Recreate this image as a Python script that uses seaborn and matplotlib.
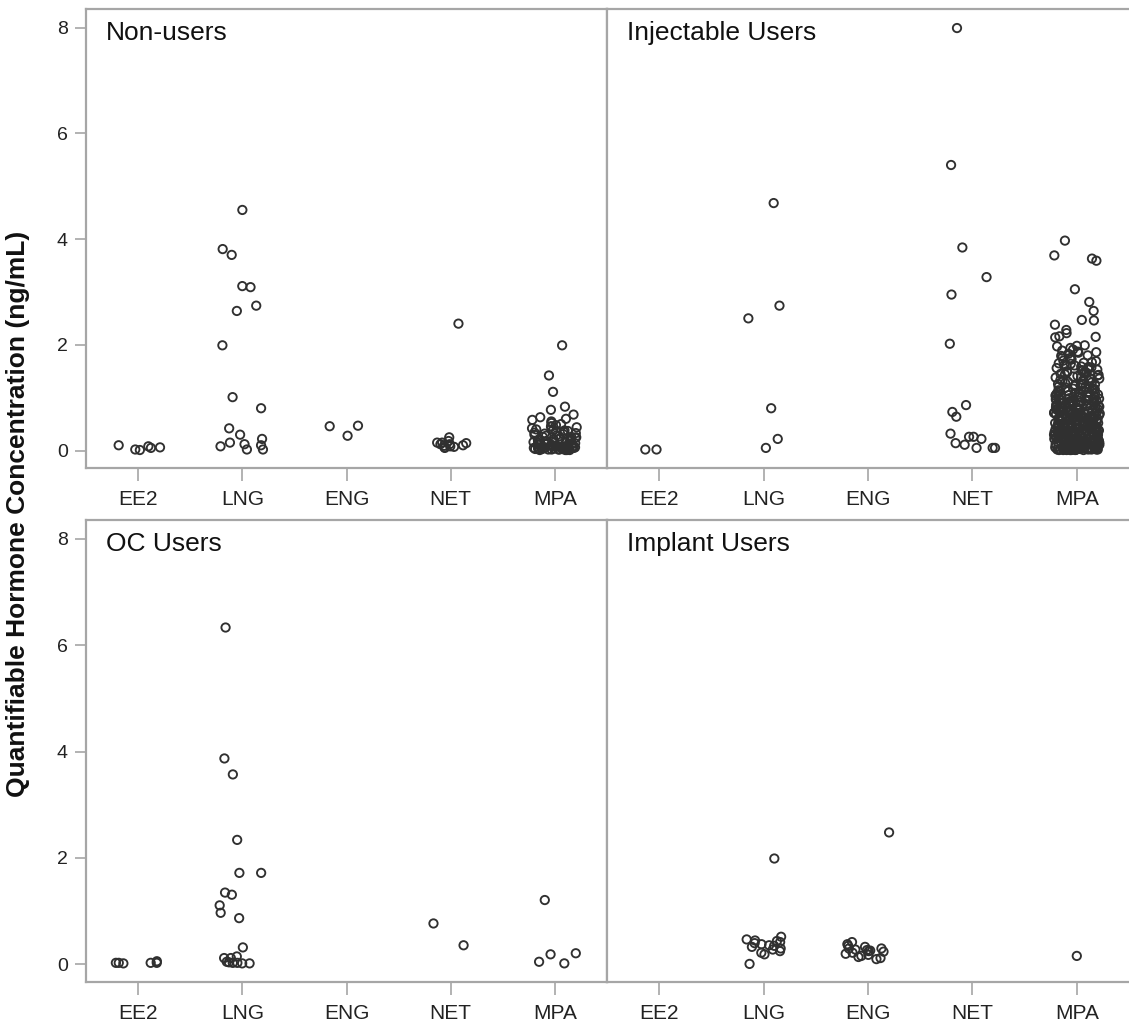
"""Strip plots of quantifiable hormone concentration by contraceptive group."""

import matplotlib
matplotlib.use("Agg")
import matplotlib.pyplot as plt
import numpy as np
import pandas as pd
import seaborn as sns

# Hormone categories on the x axis
hormones = ["EE2", "LNG", "ENG", "NET", "MPA"]

# Panel titles (reading order: top-left, top-right, bottom-left, bottom-right)
groups = ["Non-users", "Injectable Users", "OC Users", "Implant Users"]

# Concentrations (ng/mL)
nonusers_ee2 = [0.10, 0.05, 0.02, 0.08, 0.06, 0.01]
nonusers_lng = [4.55, 3.81, 3.70, 3.11, 3.09, 2.74, 2.64, 1.99, 1.01, 0.80,
                0.42, 0.30, 0.22, 0.08, 0.02, 0.02, 0.15, 0.12, 0.10]
nonusers_eng = [0.46, 0.28, 0.47]
nonusers_net = [2.40, 0.25, 0.15, 0.08, 0.05, 0.12, 0.06, 0.14, 0.10, 0.15,
                0.07, 0.12, 0.18, 0.09]
nonusers_mpa = [1.99, 1.42, 1.11, 0.83, 0.77, 0.68, 0.63, 0.60, 0.55, 0.52,
                0.50, 0.48, 0.45, 0.42, 0.40, 0.38, 0.36, 0.35, 0.33, 0.31,
                0.30, 0.28, 0.27, 0.26, 0.25, 0.24, 0.22, 0.21, 0.20, 0.19,
                0.18, 0.17, 0.16, 0.15, 0.15, 0.14, 0.13, 0.12, 0.12, 0.11,
                0.10, 0.10, 0.09, 0.09, 0.08, 0.08, 0.07, 0.07, 0.06, 0.06,
                0.05, 0.05, 0.05, 0.04, 0.04, 0.04, 0.03, 0.03, 0.03, 0.02,
                0.02, 0.02, 0.02, 0.01, 0.01, 0.01,
                0.58, 0.46, 0.39, 0.34, 0.29, 0.23, 0.18, 0.14, 0.11, 0.08,
                0.06, 0.04, 0.03, 0.02, 0.01, 0.37, 0.26, 0.16, 0.09, 0.03,
                0.44, 0.32, 0.21, 0.13, 0.05]

inject_ee2 = [0.02, 0.02]
inject_lng = [4.68, 2.74, 2.50, 0.80, 0.22, 0.05]
inject_eng = []
inject_net = [7.99, 5.40, 3.84, 3.28, 2.95, 2.02, 0.86, 0.73, 0.64, 0.32,
              0.26, 0.22, 0.26, 0.14, 0.11, 0.05, 0.05, 0.05]
inject_mpa = [3.97, 3.69, 3.63, 3.59, 3.05, 2.81, 2.64, 2.47, 2.46, 2.38,
              2.28, 2.22, 2.16, 2.15, 2.14,
              1.99, 1.97, 1.94, 1.91, 1.89, 1.87, 1.85, 1.83, 1.80, 1.79,
              1.77, 1.75, 1.72, 1.70, 1.69, 1.67, 1.65, 1.64, 1.62, 1.61,
              1.60, 1.98, 1.86, 1.73, 1.66,
              1.59, 1.58, 1.56, 1.55, 1.53, 1.52, 1.50, 1.49, 1.47, 1.46,
              1.45, 1.43, 1.42, 1.40, 1.39, 1.38, 1.36, 1.35, 1.33, 1.32,
              1.31, 1.30, 1.28, 1.27, 1.26, 1.25, 1.24, 1.22, 1.21, 1.20,
              1.57, 1.51, 1.44, 1.37, 1.34, 1.29, 1.23, 1.48, 1.41, 1.26,
              1.19, 1.18, 1.17, 1.16, 1.15, 1.14, 1.13, 1.12, 1.11, 1.10,
              1.09, 1.08, 1.07, 1.06, 1.05, 1.04, 1.03, 1.02, 1.01, 1.00,
              0.99, 0.98, 0.97, 0.96, 0.95, 0.94, 0.93, 0.92, 0.91, 0.90,
              0.89, 0.88, 0.87, 0.86, 0.85, 0.84, 0.83, 0.82, 0.81, 0.80,
              1.17, 1.12, 1.06, 1.01, 0.97, 0.93, 0.88, 0.84, 0.81, 1.09,
              1.03, 0.95, 0.90, 0.86, 0.82,
              0.79, 0.78, 0.77, 0.76, 0.75, 0.74, 0.73, 0.72, 0.71, 0.70,
              0.69, 0.68, 0.67, 0.66, 0.65, 0.64, 0.63, 0.62, 0.61, 0.60,
              0.59, 0.58, 0.57, 0.56, 0.55, 0.54, 0.53, 0.52, 0.51, 0.50,
              0.49, 0.48, 0.47, 0.46, 0.45, 0.44, 0.43, 0.42, 0.41, 0.40,
              0.78, 0.75, 0.72, 0.69, 0.66, 0.63, 0.60, 0.57, 0.54, 0.51,
              0.48, 0.45, 0.42, 0.77, 0.71, 0.64, 0.58, 0.52, 0.47, 0.43,
              0.74, 0.62, 0.55, 0.49, 0.41, 0.68, 0.56, 0.46, 0.44, 0.53,
              0.39, 0.38, 0.37, 0.36, 0.35, 0.34, 0.33, 0.32, 0.31, 0.30,
              0.29, 0.28, 0.27, 0.26, 0.25, 0.24, 0.23, 0.22, 0.21, 0.20,
              0.19, 0.18, 0.17, 0.16, 0.15, 0.14, 0.13, 0.12, 0.11, 0.10,
              0.09, 0.08, 0.07, 0.06, 0.05, 0.04, 0.03, 0.02, 0.01, 0.01,
              0.38, 0.35, 0.32, 0.29, 0.26, 0.23, 0.20, 0.17, 0.14, 0.11,
              0.08, 0.05, 0.02, 0.37, 0.31, 0.25, 0.19, 0.13, 0.07, 0.03,
              0.36, 0.30, 0.24, 0.18, 0.12, 0.06, 0.02, 0.34, 0.27, 0.21,
              0.15, 0.09, 0.04, 0.02, 0.33, 0.22, 0.16, 0.10, 0.05, 0.03,
              0.28, 0.17, 0.08, 0.04, 0.02, 0.01, 0.12, 0.06, 0.03, 0.01,
              0.98, 0.94, 0.89, 0.85, 0.79, 0.76, 0.73, 0.70, 0.67, 0.65,
              0.61, 0.59, 0.56, 0.53, 0.50, 0.47, 0.45, 0.43, 0.40, 0.38,
              0.36, 0.34, 0.31, 0.29, 0.27, 0.25, 0.23, 0.21, 0.19, 0.17,
              0.15, 0.13, 0.11, 0.09, 0.07, 0.05, 0.04, 0.03, 0.02, 0.01,
              0.92, 0.83, 0.74, 0.68, 0.62, 0.57, 0.52, 0.48, 0.44, 0.39,
              0.35, 0.32, 0.28, 0.24, 0.20, 0.16, 0.12, 0.08, 0.05, 0.02,
              0.71, 0.63, 0.55, 0.49, 0.42, 0.37, 0.33, 0.26, 0.22, 0.18,
              0.14, 0.10, 0.07, 0.04, 0.02, 0.01, 0.30, 0.25, 0.19, 0.13,
              0.09, 0.06, 0.03, 0.02, 0.01, 0.16, 0.11, 0.06, 0.03, 0.02]

oc_ee2 = [0.02, 0.06, 0.03, 0.03, 0.03, 0.03]
oc_lng = [6.33, 3.87, 3.57, 2.34, 1.72, 1.72, 1.35, 1.31, 1.11, 0.97,
          0.87, 0.32, 0.12, 0.15, 0.12, 0.02, 0.03, 0.05, 0.02, 0.04, 0.03]
oc_eng = []
oc_net = [0.77, 0.36]
oc_mpa = [1.21, 0.21, 0.19, 0.05, 0.02]

implant_ee2 = []
implant_lng = [1.99, 0.52, 0.47, 0.44, 0.42, 0.40, 0.38, 0.36, 0.33, 0.30,
               0.28, 0.25, 0.22, 0.19, 0.01, 0.45, 0.35]
implant_eng = [2.48, 0.42, 0.38, 0.35, 0.33, 0.30, 0.28, 0.27, 0.25, 0.24,
               0.22, 0.20, 0.18, 0.16, 0.14, 0.12, 0.10, 0.30, 0.26]
implant_net = []
implant_mpa = [0.16]

panel_data = {
    "Non-users": [nonusers_ee2, nonusers_lng, nonusers_eng, nonusers_net, nonusers_mpa],
    "Injectable Users": [inject_ee2, inject_lng, inject_eng, inject_net, inject_mpa],
    "OC Users": [oc_ee2, oc_lng, oc_eng, oc_net, oc_mpa],
    "Implant Users": [implant_ee2, implant_lng, implant_eng, implant_net, implant_mpa],
}

rows = []
for group, series in panel_data.items():
    for hormone, values in zip(hormones, series):
        for v in values:
            rows.append({"group": group, "hormone": hormone, "conc": v})
df = pd.DataFrame(rows)

sns.set_theme(style="white")
plt.rcParams["font.family"] = ["Liberation Sans", "DejaVu Sans"]

frame_color = "#a6a6a6"
text_color = "#222222"

fig = plt.figure(figsize=(11.29, 10.27), dpi=100)
W, H = 1129, 1027
# panel boxes in pixels: (left, top, right, bottom)
boxes = [(86, 9, 607, 468), (607, 9, 1129, 468),
         (86, 520, 607, 982), (607, 520, 1129, 982)]

np.random.seed(7)
for i, (group, (l, t, r, b)) in enumerate(zip(groups, boxes)):
    ax = fig.add_axes([l / W, 1 - b / H, (r - l) / W, (b - t) / H])
    sub = df[df["group"] == group]
    sns.stripplot(data=sub, x="hormone", y="conc", order=hormones,
                  jitter=0.22, size=6, ax=ax)
    for coll in ax.collections:
        coll.set_facecolor("none")
        coll.set_edgecolor("#303030")
        coll.set_linewidth(1.35)

    ax.set_xlim(-0.5, 4.5)
    ax.set_ylim(-0.33, 8.35)
    ax.set_xlabel("")
    ax.set_ylabel("")
    for side, spine in ax.spines.items():
        spine.set_color(frame_color)
        spine.set_linewidth(1.6)
    if i % 2 == 1:
        ax.spines["right"].set_visible(False)

    ax.tick_params(axis="x", bottom=True, length=9, width=1.2, color=frame_color,
                   pad=7, labelsize=15, labelcolor=text_color)
    if i % 2 == 0:
        ax.set_yticks([0, 2, 4, 6, 8])
        ax.tick_params(axis="y", left=True, length=8, width=1.2, color=frame_color,
                       pad=5, labelsize=14, labelcolor=text_color)
    else:
        ax.set_yticks([])

    ax.text(20 / (r - l), 1 - 12 / (b - t), group, transform=ax.transAxes,
            ha="left", va="top", fontsize=19, color="#111111")

fig.text(18 / W, 0.5, "Quantifiable Hormone Concentration (ng/mL)",
         rotation=90, ha="center", va="center", fontsize=19,
         fontweight="bold", color="#111111")

fig.savefig("out.png", dpi=100)
